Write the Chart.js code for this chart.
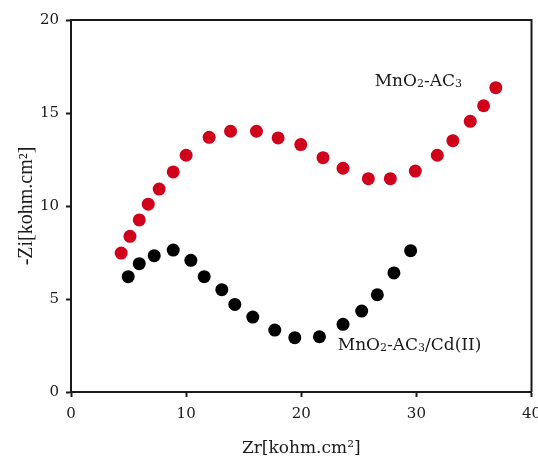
<!DOCTYPE html>
<html>
<head>
<meta charset="utf-8">
<script src="https://cdn.jsdelivr.net/npm/chart.js@4"></script>
<style>
  body { margin: 0; background: #fff; }
  canvas { display: block; }
</style>
</head>
<body>
<canvas id="chart" width="538" height="461"></canvas>
<script>
// MnO2-AC3 (red)
const redX = [4.36, 5.12, 5.93, 6.71, 7.66, 8.88, 10.0, 12.0, 13.86, 16.11, 17.99, 19.96, 21.89, 23.63, 25.83, 27.74, 29.91, 31.82, 33.17, 34.68, 35.84, 36.9];
const redY = [7.47, 8.37, 9.25, 10.1, 10.91, 11.83, 12.73, 13.69, 14.02, 14.02, 13.66, 13.3, 12.6, 12.03, 11.47, 11.47, 11.88, 12.73, 13.51, 14.55, 15.39, 16.36];

// MnO2-AC3/Cd(II) (black)
const blackX = [4.97, 5.93, 7.23, 8.88, 10.41, 11.57, 13.1, 14.23, 15.79, 17.7, 19.44, 21.58, 23.63, 25.25, 26.61, 28.05, 29.5];
const blackY = [6.2, 6.9, 7.33, 7.63, 7.08, 6.2, 5.5, 4.71, 4.03, 3.33, 2.92, 2.97, 3.64, 4.35, 5.23, 6.4, 7.6];

const xTicks = [0, 10, 20, 30, 40];
const yTicks = [0, 5, 10, 15, 20];

// label text split into normal / subscript parts, placed in data units
const labels = [
  { x: 26.38, y: 16.45, parts: [["MnO", 0], ["2", 1], ["-AC", 0], ["3", 1]] },
  { x: 23.17, y: 2.26, parts: [["MnO", 0], ["2", 1], ["-AC", 0], ["3", 1], ["/Cd(II)", 0]] }
];

const toPts = (xs, ys) => xs.map((x, i) => ({ x: x, y: ys[i] }));

Chart.defaults.font.family = "DejaVu Serif";
Chart.defaults.color = "#1a1a1a";

const framePlugin = {
  id: "frame",
  afterDraw(chart) {
    const { ctx, chartArea: a, scales } = chart;
    ctx.save();
    ctx.strokeStyle = "#1a1a1a";
    ctx.lineWidth = 2;
    ctx.beginPath();
    ctx.moveTo(a.left, a.top);
    ctx.lineTo(a.right, a.top);
    ctx.lineTo(a.right, a.bottom);
    ctx.stroke();

    ctx.fillStyle = "#1a1a1a";
    ctx.textBaseline = "alphabetic";
    labels.forEach(l => {
      let px = scales.x.getPixelForValue(l.x);
      const py = scales.y.getPixelForValue(l.y);
      l.parts.forEach(([t, sub]) => {
        ctx.font = sub ? "11px 'DejaVu Serif'" : "17px 'DejaVu Serif'";
        ctx.fillText(t, px, sub ? py + 1 : py);
        px += ctx.measureText(t).width;
      });
    });
    ctx.restore();
  }
};

new Chart(document.getElementById("chart"), {
  type: "scatter",
  data: {
    datasets: [
      {
        data: toPts(redX, redY),
        backgroundColor: "#d0021b",
        pointRadius: 6.5,
        pointHoverRadius: 6.5,
        pointBorderWidth: 0
      },
      {
        data: toPts(blackX, blackY),
        backgroundColor: "#000",
        pointRadius: 6.5,
        pointHoverRadius: 6.5,
        pointBorderWidth: 0
      }
    ]
  },
  options: {
    responsive: false,
    animation: false,
    layout: { padding: { top: 20, right: 6, left: 0, bottom: 0 } },
    plugins: { legend: { display: false }, tooltip: { enabled: false } },
    scales: {
      x: {
        min: 0, max: 40,
        afterBuildTicks: s => { s.ticks = xTicks.map(v => ({ value: v })); },
        afterFit: s => { s.height = 69; s.paddingLeft = 0; s.paddingRight = 0; },
        grid: { drawOnChartArea: false, tickLength: 5, tickWidth: 2, tickColor: "#1a1a1a" },
        border: { color: "#1a1a1a", width: 2 },
        ticks: { font: { size: 15 }, padding: 8, maxRotation: 0 },
        title: {
          display: true,
          text: "Zr[kohm.cm²]",
          font: { size: 17 },
          padding: { top: 0, bottom: 2 }
        }
      },
      y: {
        min: 0, max: 20,
        afterBuildTicks: s => { s.ticks = yTicks.map(v => ({ value: v })); },
        afterFit: s => { s.width = 71; s.paddingTop = 0; s.paddingBottom = 0; },
        grid: { drawOnChartArea: false, tickLength: 5, tickWidth: 2, tickColor: "#1a1a1a" },
        border: { color: "#1a1a1a", width: 2 },
        ticks: { font: { size: 15 }, padding: 7 },
        title: {
          display: true,
          text: "-Zi[kohm.cm²]",
          font: { family: "Liberation Serif", size: 20 },
          padding: { top: 15, bottom: 0 }
        }
      }
    }
  },
  plugins: [framePlugin]
});
</script>
</body>
</html>
